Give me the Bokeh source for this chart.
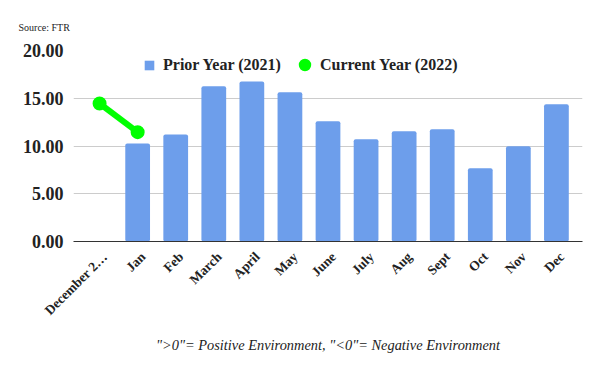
import math
from bokeh.plotting import figure
from bokeh.models import (Range1d, FixedTicker, NumeralTickFormatter,
                          Legend, LegendItem, LinearAxis, Title)
from bokeh.embed import file_html
from bokeh.resources import INLINE

# ---- data ----
categories = ["December 2021", "Jan", "Feb", "March", "April", "May", "June",
              "July", "Aug", "Sept", "Oct", "Nov", "Dec"]
tick_labels = ["December 2\u2026", "Jan", "Feb", "March", "April", "May", "June",
               "July", "Aug", "Sept", "Oct", "Nov", "Dec"]
bar_months = ["Jan", "Feb", "March", "April", "May", "June",
              "July", "Aug", "Sept", "Oct", "Nov", "Dec"]
prior_year = [10.26, 11.2, 16.26, 16.75, 15.63, 12.6, 10.71, 11.55, 11.76, 7.68, 9.98, 14.38]
current_months = ["December 2021", "Jan"]
current_year = [14.45, 11.45]
y_ticks = [0, 5, 10, 15, 20]
prior_label = "Prior Year (2021)"
current_label = "Current Year (2022)"
source_text = "Source: FTR"
note_text = '">0"= Positive Environment, "<0"= Negative Environment'

BAR = "#6d9eeb"
GREEN = "#00ff00"
SERIF = "Liberation Serif"
TXT = "#222222"

pos = {c: i for i, c in enumerate(categories)}
n = len(categories)
PAD = 0.185          # category-widths of padding at each end
FRAME_W = 509
FRAME_H = 191
LABEL_SHIFT_PX = 5.5

p = figure(frame_width=FRAME_W, frame_height=FRAME_H, output_backend="svg",
           toolbar_location=None, x_axis_location=None,
           x_range=Range1d(-0.5 - PAD, n - 0.5 + PAD),
           y_range=Range1d(0, 20),
           min_border_left=73, min_border_right=2, min_border_top=50, min_border_bottom=114)
p.outline_line_color = None

bars = p.vbar(x=[pos[m] for m in bar_months], top=prior_year, width=0.65,
              fill_color=BAR, line_color=None, border_radius=2)
cx = [pos[m] for m in current_months]
p.line(x=cx, y=current_year, line_width=6, line_color=GREEN)
dots = p.scatter(x=cx, y=current_year, size=14, fill_color=GREEN, line_color=None)

# y axis
p.yaxis.ticker = FixedTicker(ticks=y_ticks)
p.yaxis.formatter = NumeralTickFormatter(format="0.00")
p.yaxis.axis_line_color = None
p.yaxis.major_tick_line_color = None
p.yaxis.minor_tick_line_color = None
p.yaxis.major_tick_out = 0
p.yaxis.major_label_standoff = 10
p.yaxis.major_label_text_font = SERIF
p.yaxis.major_label_text_font_style = "bold"
p.yaxis.major_label_text_font_size = "18px"
p.yaxis.major_label_text_color = TXT

p.xgrid.grid_line_color = None
p.ygrid.grid_line_color = "#cccccc"

# category label axis (same span, labels nudged right like the original)
shift = LABEL_SHIFT_PX / (FRAME_W / (n + 2 * PAD))
p.extra_x_ranges = {"labels": Range1d(-0.5 - PAD - shift, n - 0.5 + PAD - shift)}
xa = LinearAxis(x_range_name="labels",
                ticker=FixedTicker(ticks=list(range(n))),
                major_label_overrides={i: lab for i, lab in enumerate(tick_labels)})
xa.axis_line_color = "#333333"
xa.major_tick_line_color = None
xa.minor_tick_line_color = None
xa.major_tick_out = 0
xa.major_tick_in = 0
xa.major_label_orientation = math.pi / 4
xa.major_label_standoff = 13
xa.major_label_text_font = SERIF
xa.major_label_text_font_style = "bold"
xa.major_label_text_font_size = "13.5px"
xa.major_label_text_color = TXT
xa.axis_label = note_text
xa.axis_label_text_font = SERIF
xa.axis_label_text_font_style = "italic"
xa.axis_label_text_font_size = "14.4px"
xa.axis_label_text_color = TXT
xa.axis_label_standoff = 11
p.add_layout(xa, "below")

# legends
leg_style = dict(orientation="horizontal", padding=0, margin=0,
                 border_line_alpha=0, background_fill_alpha=0,
                 label_text_font=SERIF, label_text_font_style="bold",
                 label_text_font_size="16px", label_text_color=TXT)
leg1 = Legend(items=[LegendItem(label=prior_label, renderers=[bars])],
              location=(70, 167), glyph_width=12, glyph_height=12, label_height=12,
              label_standoff=8, **leg_style)
leg2 = Legend(items=[LegendItem(label=current_label, renderers=[dots])],
              location=(216, 161), glyph_width=31, glyph_height=31, label_height=31,
              label_standoff=0, **leg_style)
p.add_layout(leg1)
p.add_layout(leg2)

# source note
src = Title(text=source_text, align="left", offset=-55, standoff=36,
            text_font=SERIF, text_font_size="10px", text_font_style="normal",
            text_color=TXT)
p.add_layout(src, "above")

open("out.html", "w").write(file_html(p, INLINE))
